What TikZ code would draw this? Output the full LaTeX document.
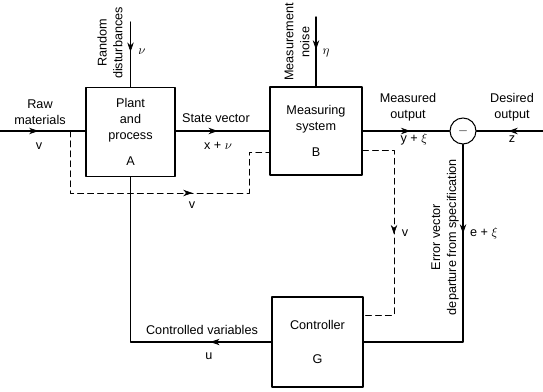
\documentclass[tikz,border=0pt]{standalone}
\usepackage{fontspec}
\setmainfont{Liberation Sans}
\usetikzlibrary{arrows.meta,decorations.markings}

\tikzset{
  blockbox/.style={draw,line width=0.9pt,align=center,inner sep=0pt},
  sumcirc/.style={draw,circle,line width=0.9pt,minimum size=7.8mm,inner sep=0pt},
  sig/.style={line width=1.2pt},
  vline/.style={line width=0.8pt,dash pattern=on 5pt off 3.5pt},
  arrowat/.style={postaction={decorate},
    decoration={markings,mark=at position #1 with {\arrow[line width=0.6pt]{Stealth[length=8pt,width=5.5pt]}}}},
  lbl/.style={align=center,inner sep=0pt}
}

\begin{document}
\begin{tikzpicture}[x=0.3mm,y=-0.3mm,line cap=round,line join=round,
  font=\fontsize{10.8}{13.6}\selectfont]
  \useasboundingbox (0,0) rectangle (543,392);

  % blocks
  \node[blockbox,minimum width=26.7mm,minimum height=26.7mm] (plant) at (130.5,132)
    {Plant\\and\\process\\[9pt]A};
  \node[blockbox,minimum width=27.6mm,minimum height=26.4mm] (meas) at (316,131)
    {Measuring\\system\\[8pt]B};
  \node[blockbox,minimum width=27.3mm,minimum height=27mm] (ctrl) at (317.5,342)
    {Controller\\[15pt]G};
  \node[sumcirc] (cmp) at (463,131) {$-$};

  % free ends
  \coordinate (rawin) at (0,131);
  \coordinate (dist) at (130.5,22);
  \coordinate (noise) at (316,17);
  \coordinate (zin) at (543,131);
  \coordinate (vtap) at (70,131);

  % signal lines
  \draw[sig,arrowat=0.45] (rawin) -- (plant.west |- rawin);
  \draw[sig,arrowat=0.46] (dist) -- (plant.north);
  \draw[sig,arrowat=0.47] (noise) -- (meas.north);
  \draw[sig,arrowat=0.45] (plant.east |- rawin) -- (meas.west |- rawin);
  \draw[sig,arrowat=0.55] (meas.east |- rawin) -- (cmp.west);
  \draw[sig,arrowat=0.52] (zin) -- (cmp.east);
  \draw[sig,arrowat=0.3] (cmp.south) |- (ctrl.east);
  \draw[sig,arrowat=0.2] (ctrl.west) -| (plant.south);

  % dashed v lines
  \draw[vline,arrowat=0.61] (vtap) |- (249,193) |- (meas.west |- 0,152);
  \draw[vline,arrowat=0.51] (meas.east |- 0,150) -| (394,315) -- (ctrl.east |- 0,315);

  % labels
  \node[lbl] (rawlbl) at (40,112) {Raw\\materials};
  \node[lbl] (rawv) at (39,146) {v};
  \node[lbl,rotate=90] (distlbl) at (110,43) {Random\\disturbances};
  \node[lbl] (distnu) at (142,52) {$\nu$};
  \node[lbl,rotate=90] (noiselbl) at (297,42) {Measurement\\noise};
  \node[lbl] (noiseeta) at (326,53) {$\eta$};
  \node[lbl] (statelbl) at (216,118) {State vector};
  \node[lbl] (statexv) at (218,146) {x + $\nu$};
  \node[lbl] (measlbl) at (408,107) {Measured\\output};
  \node[lbl] (measyx) at (414,139) {y + $\xi$};
  \node[lbl] (deslbl) at (512,107) {Desired\\output};
  \node[lbl] (desz) at (512,139) {z};
  \node[lbl] (dashv) at (192,205) {v};
  \node[lbl] (dashv2) at (405,233) {v};
  \node[lbl,rotate=90] (errlbl) at (445,237) {Error vector\\departure from specification};
  \node[lbl] (erreq) at (484,233) {e + $\xi$};
  \node[lbl] (ctrllbl) at (202,330) {Controlled variables};
  \node[lbl] (ctrlu) at (209,356) {u};
\end{tikzpicture}
\end{document}
